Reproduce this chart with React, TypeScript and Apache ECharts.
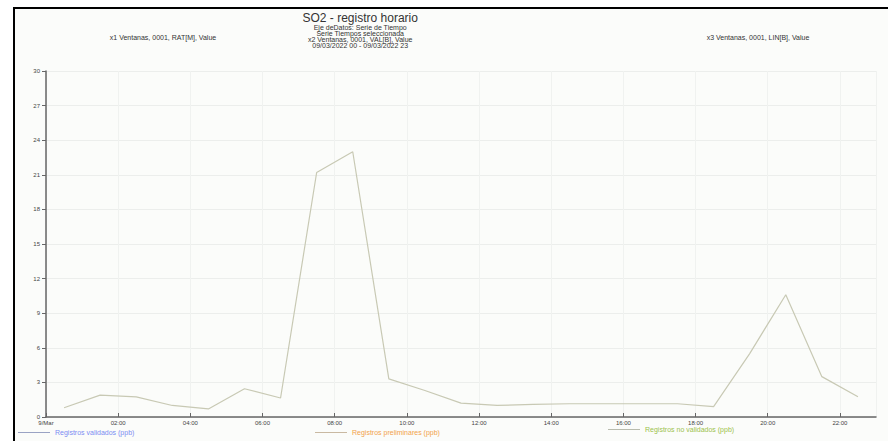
import React, { useEffect, useRef } from "react";
import * as echarts from "echarts";

const hours = [0.5, 1.5, 2.5, 3.5, 4.5, 5.5, 6.5, 7.5, 8.5, 9.5, 10.5, 11.5, 12.5, 13.5, 14.5, 15.5, 16.5, 17.5, 18.5, 19.5, 20.5, 21.5, 22.5];
const so2 = [0.8, 1.9, 1.75, 1.0, 0.7, 2.45, 1.65, 21.2, 23.0, 3.3, 2.3, 1.2, 1.0, 1.1, 1.15, 1.15, 1.15, 1.15, 0.9, 5.5, 10.6, 3.5, 1.75];
const legendNames = ["Registros validados (ppb)", "Registros preliminares (ppb)", "Registros no validados (ppb)"];
const legendColors = ["#7b8cf2", "#f2a24a", "#9cc24c"];
const titleText = "SO2 - registro horario";
const subLines = [
  "Eje deDatos: Serie de Tiempo",
  "Serie Tiempos seleccionada",
  "x2 Ventanas, 0001, VAL[B], Value",
  "09/03/2022 00 - 09/03/2022 23",
];
const sideLabels = ["x1 Ventanas, 0001, RAT[M], Value", "x3 Ventanas, 0001, LIN[B], Value"];
const firstTickLabel = "9/Mar";

const FONT = "Liberation Sans, Arial, sans-serif";

export default function App() {
  const ref = useRef<HTMLDivElement>(null);
  useEffect(() => {
    if (!ref.current) return;
    const chart = echarts.init(ref.current, undefined, { renderer: "svg" });
    const pts = hours.map((h, i) => [h, so2[i]]);
    const legendLeft = [18, 315, 608];
    const legendTop = [429, 429, 426];
    chart.setOption({
      animation: false,
      backgroundColor: "#ffffff",
      textStyle: { fontFamily: FONT },
      title: {
        text: titleText,
        subtext: subLines.join("\n"),
        left: "center",
        top: 7,
        itemGap: 0,
        textStyle: { fontSize: 12, fontWeight: "normal", color: "#333", fontFamily: FONT, lineHeight: 12 },
        subtextStyle: { fontSize: 7, lineHeight: 6, color: "#333", fontFamily: FONT, align: "center" },
        textAlign: "center",
      },
      legend: legendNames.map((n, i) => ({
        left: legendLeft[i],
        top: legendTop[i],
        icon: "rect",
        itemWidth: 32,
        itemHeight: 1,
        itemGap: 6,
        padding: 0,
        data: [{ name: n, textStyle: { color: legendColors[i], fontSize: 7, fontFamily: FONT } }],
      })),
      graphic: [
        {
          type: "rect",
          z: -10,
          shape: { x: 14, y: 8, width: 900, height: 460 },
          style: { fill: "#fbfcfa", stroke: "#000", lineWidth: 2 },
          silent: true,
        },
        {
          type: "text",
          x: 163,
          y: 37,
          style: { text: sideLabels[0], fontSize: 7, fill: "#333", align: "center", verticalAlign: "middle", fontFamily: FONT },
        },
        {
          type: "text",
          x: 758,
          y: 37,
          style: { text: sideLabels[1], fontSize: 7, fill: "#333", align: "center", verticalAlign: "middle", fontFamily: FONT },
        },
      ],
      grid: { left: 46, top: 71, right: 12, bottom: 24 },
      xAxis: {
        type: "value",
        min: 0,
        max: 23,
        interval: 2,
        axisLine: { show: true, lineStyle: { color: "#666", width: 1.5 } },
        axisTick: { show: true, length: 4, inside: true, lineStyle: { color: "#666" } },
        axisLabel: {
          fontSize: 6,
          color: "#444",
          margin: 3,
          showMaxLabel: false,
          formatter: (v: number) => (v === 0 ? firstTickLabel : String(v).padStart(2, "0") + ":00"),
        },
        splitLine: { show: true, lineStyle: { color: "#f0f2f0" } },
      },
      yAxis: {
        type: "value",
        min: 0,
        max: 30,
        interval: 3,
        axisLine: { show: true, lineStyle: { color: "#666", width: 1.5 } },
        axisTick: { show: true, length: 4, lineStyle: { color: "#666" } },
        axisLabel: { fontSize: 6, color: "#444", margin: 6 },
        splitLine: { show: true, lineStyle: { color: "#eceeec" } },
      },
      series: [
        { name: legendNames[0], type: "line", data: [], itemStyle: { color: "#9aa3c4" }, lineStyle: { color: "#9aa3c4" } },
        { name: legendNames[1], type: "line", data: [], itemStyle: { color: "#c9b9a2" }, lineStyle: { color: "#c9b9a2" } },
        {
          name: legendNames[2],
          type: "line",
          data: pts,
          showSymbol: false,
          symbol: "none",
          itemStyle: { color: "#b9bcae" },
          lineStyle: { color: "#c8c9b4", width: 1.2 },
        },
      ],
    });
    return () => chart.dispose();
  }, []);
  return <div ref={ref} style={{ position: "fixed", left: 0, top: 0, width: 888, height: 441 }} />;
}
